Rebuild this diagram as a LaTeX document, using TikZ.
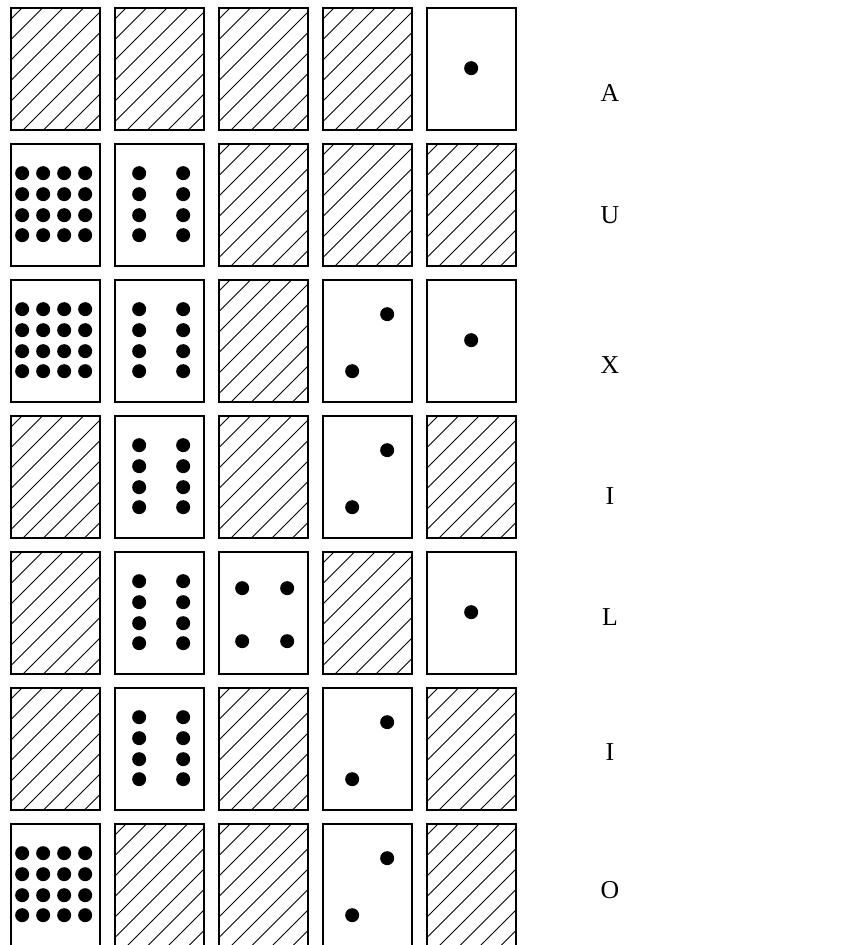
\documentclass[tikz,border=0pt]{standalone}
\usepackage{fontspec}
\setmainfont{Liberation Serif}

% dorso di una carta: tratteggio obliquo
\newcommand{\dorso}[1]{%
  \begin{scope}
    \clip (#1.south west) rectangle (#1.north east);
    \begin{scope}[shift={(#1.south west)}]
      \foreach \k in {-6,...,4}
        \draw[tratto] (\k*20.5+12,0) -- ++(130,-130);
    \end{scope}
  \end{scope}}
% facce (posizioni in pixel dal vertice in alto a sinistra)
\newcommand{\uno}[1]{%
  \begin{scope}[shift={(#1.north west)}]
    \fill (45,61) circle (7);
  \end{scope}}
\newcommand{\due}[1]{%
  \begin{scope}[shift={(#1.north west)}]
    \foreach \x/\y in {65/35, 30/92}
      \fill (\x,\y) circle (7);
  \end{scope}}
\newcommand{\quattro}[1]{%
  \begin{scope}[shift={(#1.north west)}]
    \foreach \x/\y in {24/37, 69/37, 24/90, 69/90}
      \fill (\x,\y) circle (7);
  \end{scope}}
\newcommand{\otto}[1]{%
  \begin{scope}[shift={(#1.north west)}]
    \foreach \x in {25,69}
      \foreach \y in {30,51,72,92}
        \fill (\x,\y) circle (7);
  \end{scope}}
\newcommand{\sedici}[1]{%
  \begin{scope}[shift={(#1.north west)}]
    \foreach \x in {12,33,54,75}
      \foreach \y in {30,51,72,92}
        \fill (\x,\y) circle (7);
  \end{scope}}

\begin{document}
\begin{tikzpicture}[x=0.03cm, y=-0.03cm,
    carta/.style={draw, line width=1.4pt, inner sep=0pt,
      minimum width=2.67cm, minimum height=3.66cm},
    tratto/.style={line width=0.75pt},
    lettera/.style={font=\fontsize{22}{24}\selectfont}]
  \useasboundingbox (0,0) rectangle (866,945);

  % Carte: 7 righe, 5 colonne
  \foreach \i in {1,...,7}
    \foreach \j in {1,...,5}
      \node[carta] (c\i\j) at ({-48.5+104*\j},{-67+136*\i}) {};

  % riga A
  \dorso{c11} \dorso{c12} \dorso{c13} \dorso{c14} \uno{c15}
  % riga U
  \sedici{c21} \otto{c22} \dorso{c23} \dorso{c24} \dorso{c25}
  % riga X
  \sedici{c31} \otto{c32} \dorso{c33} \due{c34} \uno{c35}
  % riga I
  \dorso{c41} \otto{c42} \dorso{c43} \due{c44} \dorso{c45}
  % riga L
  \dorso{c51} \otto{c52} \quattro{c53} \dorso{c54} \uno{c55}
  % riga I
  \dorso{c61} \otto{c62} \dorso{c63} \due{c64} \dorso{c65}
  % riga O
  \sedici{c71} \dorso{c72} \dorso{c73} \due{c74} \dorso{c75}

  % Lettere
  \node[lettera] (l1) at (610,93) {A};
  \node[lettera] (l2) at (610,215) {U};
  \node[lettera] (l3) at (610,365) {X};
  \node[lettera] (l4) at (610,496) {I};
  \node[lettera] (l5) at (610,617) {L};
  \node[lettera] (l6) at (610,752) {I};
  \node[lettera] (l7) at (610,890) {O};
\end{tikzpicture}
\end{document}
